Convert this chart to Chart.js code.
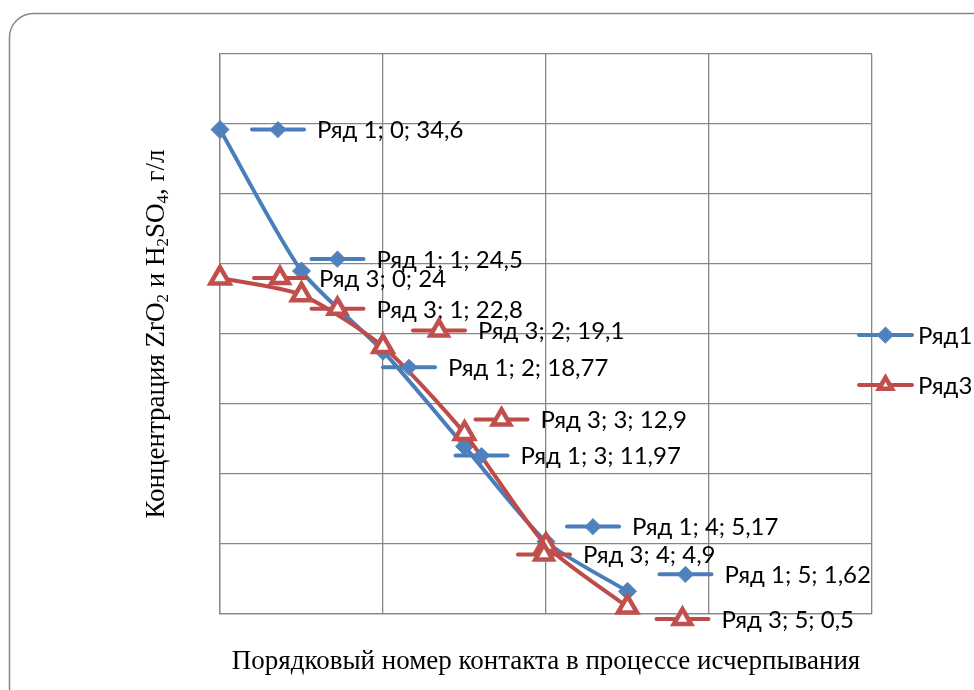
<!DOCTYPE html>
<html>
<head>
<meta charset="utf-8">
<script src="https://cdn.jsdelivr.net/npm/chart.js@4.4.0/dist/chart.umd.min.js"></script>
<style>
  body { margin: 0; background: #fff; }
  #wrap { width: 974px; height: 690px; position: relative; }
</style>
</head>
<body>
<div id="wrap"><canvas id="exhaustChart"></canvas></div>
<script>
// Concentration vs contact number, two series with data labels

var steps = [0, 1, 2, 3, 4, 5];
var ryad1 = [34.6, 24.5, 18.77, 11.97, 5.17, 1.62];
var ryad3 = [24, 22.8, 19.1, 12.9, 4.9, 0.5];
var legendNames = ['Ряд1', 'Ряд3'];
var labelNames = ['Ряд 1', 'Ряд 3'];
var xTitle = 'Порядковый номер контакта в процессе исчерпывания';
// y title pieces, sub = subscript
var yTitle = [
    { t: 'Концентрация ZrO' }, { t: '2', sub: true },
    { t: ' и H' }, { t: '2', sub: true },
    { t: 'SO' }, { t: '4', sub: true },
    { t: ', г/л' }
];

// where each data label sits relative to its point (px), labels were moved by hand
var labelShift1 = [[32, 0], [10, -12], [0, 16], [-9, 9], [21, -15], [32, -17]];
var labelShift3 = [[34, 0], [10, 14], [30, -16], [11, -14], [-28, 9], [29, 12]];

var blue = '#4A7EBB';
var red = '#BE4B48';
var labelFont = '24px Lato';
var titleFont = '27px "Liberation Serif"';
var subFont = '17px "Liberation Serif"';

function drawKey(ctx, ds, x, y, w, r) {
    ctx.save();
    ctx.strokeStyle = ds.borderColor;
    ctx.lineWidth = 4;
    ctx.lineCap = 'round';
    ctx.beginPath();
    ctx.moveTo(x, y);
    ctx.lineTo(x + w, y);
    ctx.stroke();
    ctx.fillStyle = ds.pointBackgroundColor;
    ctx.strokeStyle = ds.pointBorderColor;
    ctx.lineWidth = ds.pointBorderWidth;
    Chart.helpers.drawPoint(ctx, {
        pointStyle: ds.pointStyle,
        radius: r,
        rotation: 0,
        borderWidth: ds.pointBorderWidth
    }, x + w / 2, y);
    ctx.restore();
}

var decorations = {
    id: 'decorations',
    beforeDraw: function(chart) {
        var ctx = chart.ctx;
        // rounded frame, right and bottom edges fall outside the picture
        ctx.save();
        ctx.strokeStyle = '#878787';
        ctx.lineWidth = 1.5;
        ctx.beginPath();
        ctx.roundRect(9.5, 13.5, 1100, 800, 24);
        ctx.stroke();
        ctx.restore();
    },
    afterDatasetsDraw: function(chart) {
        var ctx = chart.ctx;
        var area = chart.chartArea;

        // data labels with legend keys
        ctx.save();
        ctx.font = labelFont;
        ctx.fillStyle = '#000';
        ctx.textBaseline = 'middle';
        chart.data.datasets.forEach(function(ds, di) {
            var meta = chart.getDatasetMeta(di);
            meta.data.forEach(function(pt, i) {
                var sh = ds.labelShift[i];
                var x0 = pt.x + sh[0];
                var y0 = pt.y + sh[1];
                drawKey(ctx, ds, x0, y0, 52, ds.keyRadius);
                var val = String(ds.data[i].y).replace('.', ',');
                ctx.fillText(labelNames[di] + '; ' + steps[i] + '; ' + val, x0 + 65, y0 + 1);
            });
        });

        // legend on the right
        chart.data.datasets.forEach(function(ds, di) {
            var ly = 335 + di * 50;
            drawKey(ctx, ds, 859, ly, 53, ds.legendRadius);
            ctx.fillText(ds.label, 918, ly + 1);
        });
        ctx.restore();

        // axis titles
        ctx.save();
        ctx.fillStyle = '#000';
        ctx.font = titleFont;
        ctx.textAlign = 'center';
        ctx.textBaseline = 'middle';
        ctx.fillText(xTitle, (area.left + area.right) / 2, 662);

        ctx.translate(155, (area.top + area.bottom) / 2);
        ctx.rotate(-Math.PI / 2);
        ctx.textAlign = 'left';
        ctx.textBaseline = 'alphabetic';
        var total = 0;
        yTitle.forEach(function(p) {
            ctx.font = p.sub ? subFont : titleFont;
            total += ctx.measureText(p.t).width;
        });
        var cx = -total / 2;
        yTitle.forEach(function(p) {
            ctx.font = p.sub ? subFont : titleFont;
            ctx.fillText(p.t, cx, p.sub ? 13 : 9);
            cx += ctx.measureText(p.t).width;
        });
        ctx.restore();
    }
};

var ctx = document.getElementById('exhaustChart').getContext('2d');
var exhaustChart = new Chart(ctx, {
    type: 'line',
    data: {
        datasets: [{
            label: legendNames[0],
            data: steps.map(function(x, i) { return { x: x, y: ryad1[i] }; }),
            borderColor: blue,
            borderWidth: 4,
            pointStyle: 'rectRot',
            pointRadius: 9,
            pointBackgroundColor: '#4F81BD',
            pointBorderColor: '#4F81BD',
            pointBorderWidth: 1,
            keyRadius: 8,
            legendRadius: 8,
            labelShift: labelShift1,
            tension: 0.22,
            clip: false,
            order: 1
        }, {
            label: legendNames[1],
            data: steps.map(function(x, i) { return { x: x, y: ryad3[i] }; }),
            borderColor: red,
            borderWidth: 4,
            pointStyle: 'triangle',
            pointRadius: 11,
            pointBackgroundColor: '#fff',
            pointBorderColor: '#C0504D',
            pointBorderWidth: 4.5,
            keyRadius: 10,
            legendRadius: 7.5,
            labelShift: labelShift3,
            tension: 0.22,
            clip: false,
            order: 0
        }]
    },
    options: {
        responsive: true,
        maintainAspectRatio: false,
        animation: false,
        layout: {
            padding: { left: 220, right: 102, top: 54, bottom: 76 }
        },
        plugins: {
            legend: { display: false },
            tooltip: { enabled: false }
        },
        scales: {
            x: {
                type: 'linear',
                min: 0,
                max: 8,
                ticks: { display: false, stepSize: 2 },
                grid: { color: '#868686', lineWidth: 1.3, drawTicks: false },
                border: { color: '#868686', width: 1.3 }
            },
            y: {
                min: 0,
                max: 40,
                ticks: { display: false, stepSize: 5 },
                grid: { color: '#868686', lineWidth: 1.3, drawTicks: false },
                border: { color: '#868686', width: 1.3 }
            }
        }
    },
    plugins: [decorations]
});
</script>
</body>
</html>
